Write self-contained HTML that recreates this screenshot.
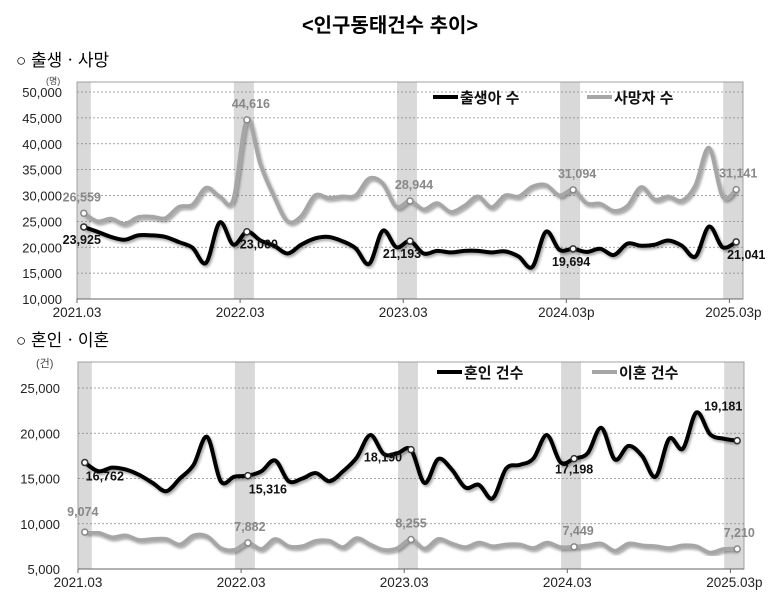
<!DOCTYPE html>
<html><head><meta charset="utf-8"><style>
body{margin:0;background:#fff;}
svg{display:block;font-family:"Liberation Sans","Noto Sans CJK KR",sans-serif;}
</style></head><body>
<svg id="c" width="782" height="605" viewBox="0 0 782 605">
<defs><filter id="sh" x="-5%" y="-5%" width="110%" height="120%"><feDropShadow dx="1.5" dy="2" stdDeviation="1.2" flood-color="#000" flood-opacity="0.35"/></filter></defs>
<text x="390" y="32" text-anchor="middle" font-size="20" font-weight="bold">&lt;인구동태건수 추이&gt;</text>
<text x="16" y="66" font-size="17">○ 출생ㆍ사망</text>
<text x="16" y="346" font-size="17">○ 혼인ㆍ이혼</text>
<text x="46" y="84" font-size="9" fill="#444">(명)</text>
<text x="36" y="367" font-size="11" fill="#444">(건)</text>
<g id="top"></g><g id="bot"></g>
</svg>
<script>
const xLabelsTop=["2021.03","2022.03","2023.03","2024.03p","2025.03p"];
const xLabelsBot=["2021.03","2022.03","2023.03","2024.03","2025.03p"];
const births=[23925,23000,22000,21450,22300,22300,22000,21000,19900,17000,24800,20500,23000,21300,20300,18800,20500,21700,22000,21200,19800,16800,23200,20000,21193,18800,19300,19000,19300,19300,19000,19200,18200,16200,23000,19500,19694,19100,19700,18500,20700,20300,20500,21300,20300,18200,24000,20000,21041];
const deaths=[26559,25000,25500,24500,25800,25900,25600,27800,28200,31500,29800,29200,44616,36000,29800,25000,26000,30000,29500,29800,30000,33300,32300,27800,28944,27300,28500,26800,28000,29800,27700,30000,29800,31700,32000,30000,31094,28500,28400,27000,28000,31600,29200,29800,29000,32000,39200,29800,31141];
const marriages=[16762,15800,16200,16000,15400,14500,13600,15000,16500,19600,14700,15200,15316,15800,17000,14700,15000,15600,14700,15800,17300,19800,17700,17800,18190,14500,17150,16000,14000,14300,12800,16100,16500,17200,19800,16800,17198,17800,20600,17100,18600,17500,15200,19400,18300,22300,19900,19400,19181];
const divorces=[9074,9000,8500,8700,8200,8300,8300,7700,8700,8600,7300,7100,7882,7200,8300,7500,7500,8100,8100,7400,8400,7700,7100,7300,8255,7240,8300,7800,7400,7900,7500,7700,7700,7300,7900,7400,7449,7600,7800,7000,7800,7600,7500,7300,7600,7500,6800,7200,7210];
const topTicks=[10000,15000,20000,25000,30000,35000,40000,45000,50000];
const botTicks=[5000,10000,15000,20000,25000];
const NS="http://www.w3.org/2000/svg";
function mk(p,t,a){const e=document.createElementNS(NS,t);for(const k in a)e.setAttribute(k,a[k]);p.appendChild(e);return e;}
function fmt(v){return v.toLocaleString('en-US');}
function path(pts){let d=`M${pts[0][0]},${pts[0][1]}`;for(let i=0;i<pts.length-1;i++){const p0=pts[i-1]||pts[i],p1=pts[i],p2=pts[i+1],p3=pts[i+2]||p2;const t=6;d+=` C${p1[0]+(p2[0]-p0[0])/t},${p1[1]+(p2[1]-p0[1])/t} ${p2[0]-(p3[0]-p1[0])/t},${p2[1]-(p3[1]-p1[1])/t} ${p2[0]},${p2[1]}`;}return d;}
function chart(g,o){
 const n=o.s1.length,cw=(o.x1-o.x0)/n;
 const X=i=>o.x0+cw*(i+0.5);
 const Y=v=>o.yb-(v-o.vmin)/(o.vmax-o.vmin)*(o.yb-o.yt0);
 for(let i=0;i<n;i+=12){const b=mk(g,'rect',{x:Math.max(o.x0,X(i)-13),y:o.top,width:Math.min(20,X(i)+7-Math.max(o.x0,X(i)-13)),height:o.yb-o.top,fill:'#d9d9d9'});

}
 mk(g,'rect',{x:o.x0,y:o.top,width:o.x1-o.x0,height:o.yb-o.top,fill:'none',stroke:'#a0a0a0','stroke-width':1});
 o.ticks.forEach(v=>{const y=Y(v);if(v>o.vmin){const l=mk(g,'line',{x1:o.x0,x2:o.x1,y1:y,y2:y,stroke:'#888','stroke-dasharray':'2,2','stroke-width':0.8});

}
  const t=mk(g,'text',{x:o.lx,y:y+5,'text-anchor':'end','font-size':13,fill:'#222'});t.textContent=fmt(v);

});
 mk(g,'line',{x1:o.x0,x2:o.x1,y1:o.yb,y2:o.yb,stroke:'#666'});
 o.xl.forEach((s,k)=>{const x=o.x0+cw*12*k;mk(g,'line',{x1:x,x2:x,y1:o.yb,y2:o.yb+4,stroke:'#666'});const t=mk(g,'text',{x:x+ (k==4?4:0),y:o.yb+18,'text-anchor':'middle','font-size':13.5,fill:'#222'});t.textContent=s;

});
 [[o.s2,'#a6a6a6','series-gray-line'],[o.s1,'#000','series-black-line']].forEach(([s,c,nm])=>{const p=mk(g,'path',{d:path(s.map((v,i)=>[X(i),Y(v)])),fill:'none',stroke:c,'stroke-width':4,'stroke-linejoin':'round',filter:'url(#sh)'});


  for(let i=0;i<n;i+=12){const m=mk(g,'circle',{cx:X(i),cy:Y(s[i]),r:3,fill:'#fff',stroke:c==='#000'?'#333':'#888','stroke-width':1.5});


   const off=(c==='#000'?o.l1:o.l2)[i/12];const t=mk(g,'text',{x:X(i)+off[0],y:Y(s[i])+off[1],'text-anchor':'middle','font-size':12.5,'font-weight':'bold',fill:c==='#000'?'#111':'#888'});t.textContent=fmt(s[i]);

}});
 o.leg.forEach(([x,y,c,s])=>{const l=mk(g,'line',{x1:x,x2:x+25,y1:y,y2:y,stroke:c,'stroke-width':4});


const t=mk(g,'text',{x:x+27,y:y+6,'font-size':15,'font-weight':'bold',fill:'#111'});t.textContent=s;

});
}
chart(document.getElementById('top'),{x0:77,x1:743,top:82,yt0:92,yb:299,vmin:10000,vmax:50000,ticks:topTicks,lx:62,xl:xLabelsTop,s1:births,s2:deaths,
 l1:[[-2,17],[12,17],[-8,17],[-2,17],[10,17]],l2:[[-2,-12],[4,-12],[4,-12],[4,-12],[2,-12]],leg:[[433,97,'#000','출생아 수'],[587,97,'#a6a6a6','사망자 수']]});
chart(document.getElementById('bot'),{x0:78,x1:744,top:362,yt0:388,yb:569,vmin:5000,vmax:25000,ticks:botTicks,lx:60,xl:xLabelsBot,s1:marriages,s2:divorces,
 l1:[[20,18],[20,18],[-28,12],[0,15],[-14,-30]],l2:[[-2,-16],[2,-12],[0,-12],[4,-12],[2,-12]],leg:[[437,372,'#000','혼인 건수'],[592,372,'#a6a6a6','이혼 건수']]});
</script>
</body></html>
